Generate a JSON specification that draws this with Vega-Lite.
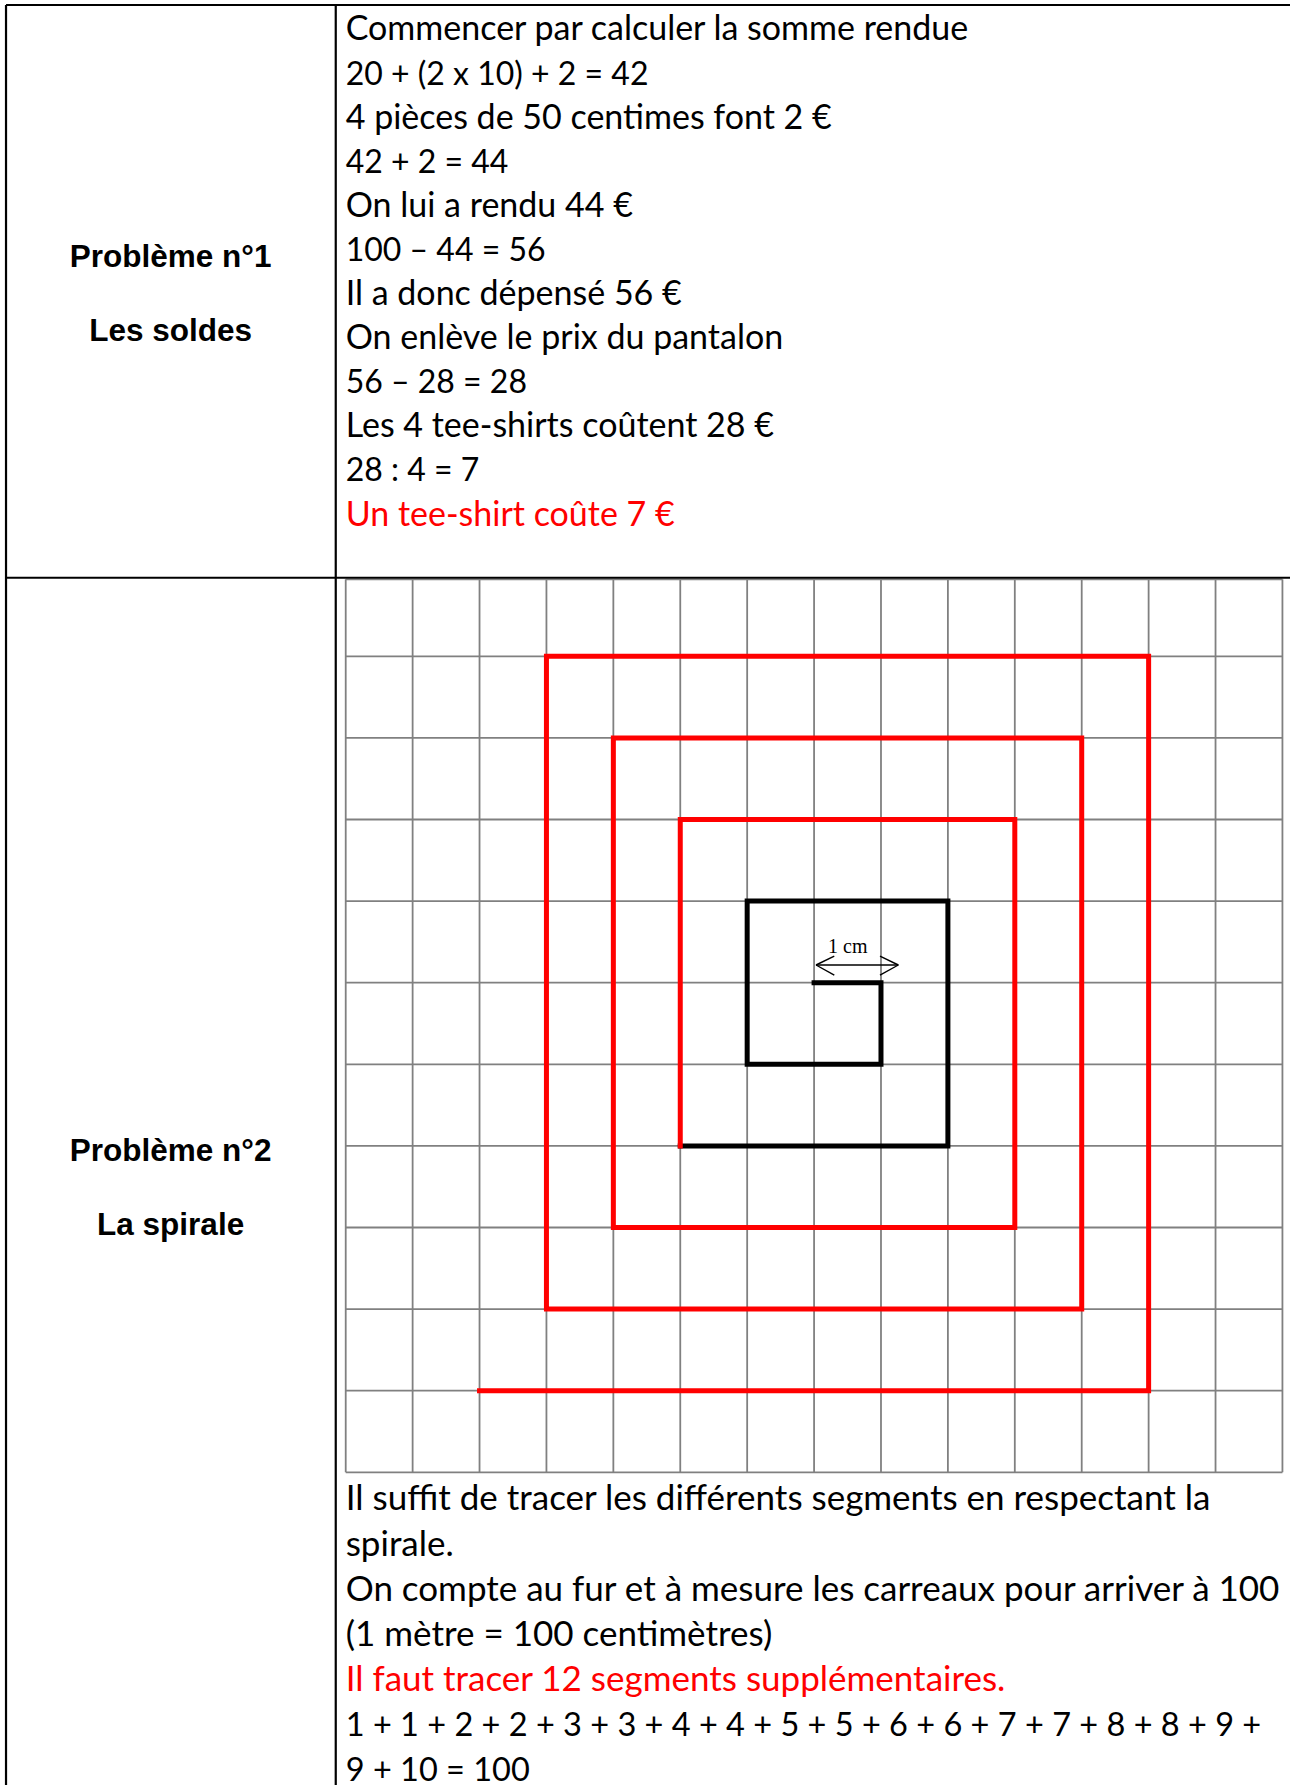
{
  "$schema": "https://vega.github.io/schema/vega-lite/v6.json",
  "width": 1290,
  "height": 1785,
  "autosize": {"type": "none"},
  "padding": 0,
  "background": "white",
  "config": {"view": {"stroke": null}},
  "datasets": {
    "grid": [
      {"x": 0, "x2": 14, "y": 0.056, "y2": 0.056},
      {"x": 0, "x2": 14, "y": 1, "y2": 1},
      {"x": 0, "x2": 14, "y": 2, "y2": 2},
      {"x": 0, "x2": 14, "y": 3, "y2": 3},
      {"x": 0, "x2": 14, "y": 4, "y2": 4},
      {"x": 0, "x2": 14, "y": 5, "y2": 5},
      {"x": 0, "x2": 14, "y": 6, "y2": 6},
      {"x": 0, "x2": 14, "y": 7, "y2": 7},
      {"x": 0, "x2": 14, "y": 8, "y2": 8},
      {"x": 0, "x2": 14, "y": 9, "y2": 9},
      {"x": 0, "x2": 14, "y": 10, "y2": 10},
      {"x": 0, "x2": 14, "y": 11, "y2": 11},
      {"x": 0, "x2": 0, "y": 0.056, "y2": 11},
      {"x": 1, "x2": 1, "y": 0.056, "y2": 11},
      {"x": 2, "x2": 2, "y": 0.056, "y2": 11},
      {"x": 3, "x2": 3, "y": 0.056, "y2": 11},
      {"x": 4, "x2": 4, "y": 0.056, "y2": 11},
      {"x": 5, "x2": 5, "y": 0.056, "y2": 11},
      {"x": 6, "x2": 6, "y": 0.056, "y2": 11},
      {"x": 7, "x2": 7, "y": 0.056, "y2": 11},
      {"x": 8, "x2": 8, "y": 0.056, "y2": 11},
      {"x": 9, "x2": 9, "y": 0.056, "y2": 11},
      {"x": 10, "x2": 10, "y": 0.056, "y2": 11},
      {"x": 11, "x2": 11, "y": 0.056, "y2": 11},
      {"x": 12, "x2": 12, "y": 0.056, "y2": 11},
      {"x": 13, "x2": 13, "y": 0.056, "y2": 11},
      {"x": 14, "x2": 14, "y": 0.056, "y2": 11}
    ],
    "table": [
      {"x": -5.077, "x2": 14.113, "y": -6.982, "y2": -6.982},
      {"x": -5.077, "x2": 14.113, "y": 0.037, "y2": 0.037},
      {"x": -5.077, "x2": -5.077, "y": -6.982, "y2": 14.832},
      {"x": -0.149, "x2": -0.149, "y": -6.982, "y2": 14.832}
    ],
    "spiral": [
      {"part": "given", "step": 0, "x": 7, "y": 5},
      {"part": "given", "step": 1, "x": 8, "y": 5},
      {"part": "given", "step": 2, "x": 8, "y": 6},
      {"part": "given", "step": 3, "x": 6, "y": 6},
      {"part": "given", "step": 4, "x": 6, "y": 4},
      {"part": "given", "step": 5, "x": 9, "y": 4},
      {"part": "given", "step": 6, "x": 9, "y": 7},
      {"part": "given", "step": 7, "x": 5, "y": 7},
      {"part": "answer", "step": 7, "x": 5, "y": 7},
      {"part": "answer", "step": 8, "x": 5, "y": 3},
      {"part": "answer", "step": 9, "x": 10, "y": 3},
      {"part": "answer", "step": 10, "x": 10, "y": 8},
      {"part": "answer", "step": 11, "x": 4, "y": 8},
      {"part": "answer", "step": 12, "x": 4, "y": 2},
      {"part": "answer", "step": 13, "x": 11, "y": 2},
      {"part": "answer", "step": 14, "x": 11, "y": 9},
      {"part": "answer", "step": 15, "x": 3, "y": 9},
      {"part": "answer", "step": 16, "x": 3, "y": 1},
      {"part": "answer", "step": 17, "x": 12, "y": 1},
      {"part": "answer", "step": 18, "x": 12, "y": 10},
      {"part": "answer", "step": 19, "x": 2, "y": 10}
    ],
    "arrow": [
      {"x": 7.029, "x2": 8.259, "y": 4.783, "y2": 4.783},
      {"x": 7.029, "x2": 7.302, "y": 4.783, "y2": 4.673},
      {"x": 7.029, "x2": 7.302, "y": 4.783, "y2": 4.906},
      {"x": 8.259, "x2": 7.985, "y": 4.783, "y2": 4.673},
      {"x": 8.259, "x2": 7.985, "y": 4.783, "y2": 4.906}
    ],
    "text": [
      {"kind": "work", "style": "prose1", "x": 0, "y": -6.547, "t": "Commencer par calculer la somme rendue"},
      {"kind": "work", "style": "math1", "x": 0, "y": -6.006, "t": "20 + (2 x 10) + 2 = 42"},
      {"kind": "work", "style": "prose1", "x": 0, "y": -5.466, "t": "4 pièces de 50 centimes font 2 €"},
      {"kind": "work", "style": "math1", "x": 0, "y": -4.926, "t": "42 + 2 = 44"},
      {"kind": "work", "style": "prose1", "x": 0, "y": -4.385, "t": "On lui a rendu 44 €"},
      {"kind": "work", "style": "math1", "x": 0, "y": -3.845, "t": "100 – 44 = 56"},
      {"kind": "work", "style": "prose1", "x": 0, "y": -3.305, "t": "Il a donc dépensé 56 €"},
      {"kind": "work", "style": "prose1", "x": 0, "y": -2.764, "t": "On enlève le prix du pantalon"},
      {"kind": "work", "style": "math1", "x": 0, "y": -2.224, "t": "56 – 28 = 28"},
      {"kind": "work", "style": "prose1", "x": 0, "y": -1.684, "t": "Les 4 tee-shirts coûtent 28 €"},
      {"kind": "work", "style": "math1", "x": 0, "y": -1.143, "t": "28 : 4 = 7"},
      {"kind": "answer", "style": "prose1", "x": 0, "y": -0.603, "t": "Un tee-shirt coûte 7 €"},
      {"kind": "work", "style": "prose2", "x": 0, "y": 11.467, "t": "Il suffit de tracer les différents segments en respectant la"},
      {"kind": "work", "style": "prose2", "x": 0, "y": 12.021, "t": "spirale."},
      {"kind": "work", "style": "prose2", "x": 0, "y": 12.575, "t": "On compte au fur et à mesure les carreaux pour arriver à 100"},
      {"kind": "work", "style": "prose2", "x": 0, "y": 13.129, "t": "(1 mètre = 100 centimètres)"},
      {"kind": "answer", "style": "prose2", "x": 0, "y": 13.683, "t": "Il faut tracer 12 segments supplémentaires."},
      {"kind": "work", "style": "math2", "x": 0, "y": 14.237, "t": "1 + 1 + 2 + 2 + 3 + 3 + 4 + 4 + 5 + 5 + 6 + 6 + 7 + 7 + 8 + 8 + 9 +"},
      {"kind": "work", "style": "math2", "x": 0, "y": 14.78, "t": "9 + 10 = 100"}
    ],
    "labels": [
      {"x": -2.617, "y": -3.765, "t": "Problème n°1"},
      {"x": -2.617, "y": -2.858, "t": "Les soldes"},
      {"x": -2.617, "y": 7.189, "t": "Problème n°2"},
      {"x": -2.617, "y": 8.096, "t": "La spirale"}
    ],
    "cm": [
      {"x": 7.503, "y": 4.63, "t": "1 cm"}
    ]
  },
  "layer": [
    {
      "data": {"name": "grid"},
      "mark": {"type": "rule", "color": "#808080", "strokeWidth": 1.8},
      "encoding": {
        "x": {"field": "x", "type": "quantitative", "scale": {"domain": [-5.167, 14.113], "nice": false, "zero": false}, "axis": null},
        "x2": {"field": "x2"},
        "y": {"field": "y", "type": "quantitative", "scale": {"domain": [-7.043, 14.832], "nice": false, "zero": false, "reverse": true}, "axis": null},
        "y2": {"field": "y2"}
      }
    },
    {
      "data": {"name": "table"},
      "mark": {"type": "rule", "color": "#000000", "strokeWidth": 2.2},
      "encoding": {
        "x": {"field": "x", "type": "quantitative"},
        "x2": {"field": "x2"},
        "y": {"field": "y", "type": "quantitative"},
        "y2": {"field": "y2"}
      }
    },
    {
      "data": {"name": "spiral"},
      "mark": {"type": "line", "strokeWidth": 5, "strokeCap": "square", "strokeJoin": "miter"},
      "encoding": {
        "x": {"field": "x", "type": "quantitative"},
        "y": {"field": "y", "type": "quantitative"},
        "order": {"field": "step", "type": "quantitative"},
        "color": {"field": "part", "type": "nominal", "scale": {"domain": ["given", "answer"], "range": ["#000000", "#FF0000"]}, "legend": null}
      }
    },
    {
      "data": {"name": "arrow"},
      "mark": {"type": "rule", "color": "#000000", "strokeWidth": 1.4},
      "encoding": {
        "x": {"field": "x", "type": "quantitative"},
        "x2": {"field": "x2"},
        "y": {"field": "y", "type": "quantitative"},
        "y2": {"field": "y2"}
      }
    },
    {
      "data": {"name": "text"},
      "transform": [{"filter": "datum.style === 'prose1'"}],
      "mark": {"type": "text", "font": "Lato", "fontSize": 34, "align": "left", "baseline": "alphabetic"},
      "encoding": {
        "x": {"field": "x", "type": "quantitative"},
        "y": {"field": "y", "type": "quantitative"},
        "text": {"field": "t"},
        "color": {"field": "kind", "type": "nominal", "scale": {"domain": ["work", "answer"], "range": ["#000000", "#FF0000"]}, "legend": null}
      }
    },
    {
      "data": {"name": "text"},
      "transform": [{"filter": "datum.style === 'math1'"}],
      "mark": {"type": "text", "font": "Lato", "fontSize": 32, "align": "left", "baseline": "alphabetic", "color": "#000000"},
      "encoding": {
        "x": {"field": "x", "type": "quantitative"},
        "y": {"field": "y", "type": "quantitative"},
        "text": {"field": "t"}
      }
    },
    {
      "data": {"name": "text"},
      "transform": [{"filter": "datum.style === 'prose2'"}],
      "mark": {"type": "text", "font": "Lato", "fontSize": 35, "align": "left", "baseline": "alphabetic"},
      "encoding": {
        "x": {"field": "x", "type": "quantitative"},
        "y": {"field": "y", "type": "quantitative"},
        "text": {"field": "t"},
        "color": {"field": "kind", "type": "nominal", "scale": {"domain": ["work", "answer"], "range": ["#000000", "#FF0000"]}, "legend": null}
      }
    },
    {
      "data": {"name": "text"},
      "transform": [{"filter": "datum.style === 'math2'"}],
      "mark": {"type": "text", "font": "Lato", "fontSize": 32.5, "align": "left", "baseline": "alphabetic", "color": "#000000"},
      "encoding": {
        "x": {"field": "x", "type": "quantitative"},
        "y": {"field": "y", "type": "quantitative"},
        "text": {"field": "t"}
      }
    },
    {
      "data": {"name": "labels"},
      "mark": {"type": "text", "font": "Liberation Sans", "fontWeight": "bold", "fontSize": 31.5, "align": "center", "baseline": "alphabetic", "color": "#000000"},
      "encoding": {
        "x": {"field": "x", "type": "quantitative"},
        "y": {"field": "y", "type": "quantitative"},
        "text": {"field": "t"}
      }
    },
    {
      "data": {"name": "cm"},
      "mark": {"type": "text", "font": "Liberation Serif", "fontSize": 20, "align": "center", "baseline": "alphabetic", "color": "#000000"},
      "encoding": {
        "x": {"field": "x", "type": "quantitative"},
        "y": {"field": "y", "type": "quantitative"},
        "text": {"field": "t"}
      }
    }
  ],
  "resolve": {"scale": {"color": "independent"}}
}
